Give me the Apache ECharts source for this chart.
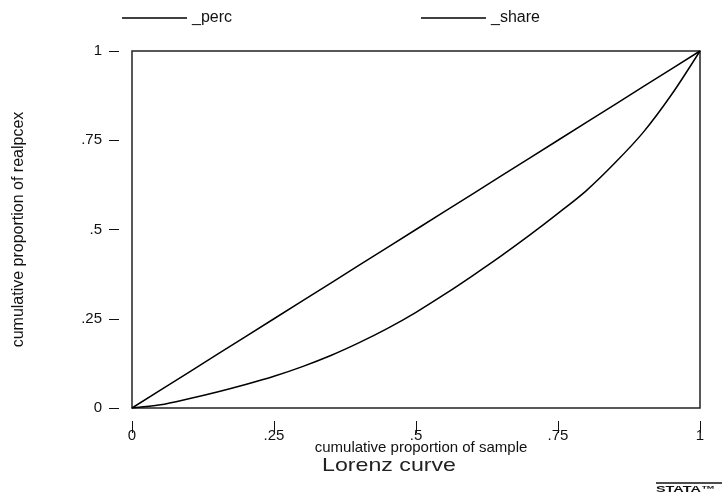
<!DOCTYPE html>
<html>
<head>
<meta charset="utf-8">
<script src="https://cdn.jsdelivr.net/npm/echarts@6/dist/echarts.min.js"></script>
<style>
html,body{margin:0;padding:0;background:#fff;}
#chart{width:722px;height:496px;}
</style>
</head>
<body>
<div id="chart"></div>
<script>
// cumulative proportion of sample
const sampleProp = [0,0.05,0.1,0.15,0.2,0.25,0.3,0.35,0.4,0.45,0.5,0.55,0.6,0.65,0.7,0.75,0.8,0.85,0.9,0.95,1];
// _perc (line of equality)
const percValues = [0,0.05,0.1,0.15,0.2,0.25,0.3,0.35,0.4,0.45,0.5,0.55,0.6,0.65,0.7,0.75,0.8,0.85,0.9,0.95,1];
// _share (Lorenz curve)
const shareValues = [0,0.009,0.026,0.045,0.066,0.089,0.116,0.147,0.183,0.223,0.268,0.318,0.371,0.426,0.484,0.545,0.609,0.686,0.772,0.878,1];
const seriesNames = ['_perc','_share'];
const tickValues = [0,0.25,0.5,0.75,1];
const xTickLabels = ['0','.25','.5','.75','1'];
const yTickLabels = ['0','.25','.5','.75','1'];

const font = 'Liberation Sans, Arial, sans-serif';
function fmt(labels){
  return function(v){
    const i = tickValues.findIndex(t => Math.abs(t - v) < 1e-6);
    return i >= 0 ? labels[i] : '';
  };
}
// plot box geometry (pixels) and the detached tick axes (Stata style gap)
const box = {left:132,right:22,top:51,bottom:88};
const gap = 13;
const boxW = 722 - box.left - box.right;
const boxH = 496 - box.top - box.bottom;

const chart = echarts.init(document.getElementById('chart'), null, {renderer:'canvas'});
chart.setOption({
  backgroundColor:'#fff',
  animation:false,
  grid:[
    {left:box.left,right:box.right,top:box.top,bottom:box.bottom,show:true,borderColor:'#222',borderWidth:1.5,backgroundColor:'transparent'},
    {left:box.left-gap,right:box.right,top:box.top,bottom:box.bottom-gap,show:false}
  ],
  legend:[
    {data:[seriesNames[0]],left:117,top:5,icon:'rect',itemWidth:65,itemHeight:1.5,itemGap:5,
     textStyle:{fontFamily:font,fontSize:16,color:'#111'}},
    {data:[seriesNames[1]],left:416,top:5,icon:'rect',itemWidth:65,itemHeight:1.5,itemGap:5,
     textStyle:{fontFamily:font,fontSize:16,color:'#111'}}
  ],
  xAxis:[
    {gridIndex:0,type:'value',min:0,max:1,
     axisLine:{show:false},axisTick:{show:false},axisLabel:{show:false},splitLine:{show:false},
     name:'cumulative proportion of sample',nameLocation:'middle',nameGap:32,nameMoveOverlap:false,
     nameTextStyle:{fontFamily:font,fontSize:15,color:'#111',padding:[0,0,0,10]}},
    {gridIndex:1,type:'value',min:-gap/boxW,max:1,position:'bottom',
     axisLine:{show:false,onZero:false},
     axisTick:{show:true,inside:false,length:12,customValues:tickValues,lineStyle:{color:'#111',width:1}},
     splitLine:{show:false},
     axisLabel:{customValues:tickValues,formatter:fmt(xTickLabels),margin:7,fontFamily:font,fontSize:15,color:'#111'}}
  ],
  yAxis:[
    {gridIndex:0,type:'value',min:0,max:1,
     axisLine:{show:false},axisTick:{show:false},axisLabel:{show:false},splitLine:{show:false},
     name:'cumulative proportion of realpcex',nameLocation:'middle',nameGap:105,nameMoveOverlap:false,
     nameTextStyle:{fontFamily:font,fontSize:16,color:'#111'}},
    {gridIndex:1,type:'value',min:-gap/boxH,max:1,position:'left',
     axisLine:{show:false,onZero:false},
     axisTick:{show:true,inside:false,length:10,customValues:tickValues,lineStyle:{color:'#111',width:1}},
     splitLine:{show:false},
     axisLabel:{customValues:tickValues,formatter:fmt(yTickLabels),margin:17,fontFamily:font,fontSize:15,color:'#111'}}
  ],
  series:[
    {name:seriesNames[0],type:'line',xAxisIndex:0,yAxisIndex:0,symbol:'none',showSymbol:false,
     data:sampleProp.map((p,i)=>[p,percValues[i]]),
     itemStyle:{color:'#000'},lineStyle:{color:'#000',width:1.5}},
    {name:seriesNames[1],type:'line',xAxisIndex:0,yAxisIndex:0,symbol:'none',showSymbol:false,smooth:0.3,
     data:sampleProp.map((p,i)=>[p,shareValues[i]]),
     itemStyle:{color:'#000'},lineStyle:{color:'#000',width:1.5}}
  ],
  graphic:[
    {type:'text',x:322,y:456,scaleX:1.22,scaleY:1,
     style:{text:'Lorenz curve',font:'19px Liberation Sans, Arial, sans-serif',fill:'#222',textVerticalAlign:'top'}},
    {type:'line',shape:{x1:656,y1:483,x2:722,y2:483},style:{stroke:'#111',lineWidth:1.5}},
    {type:'text',x:656,y:485,scaleX:1.6,scaleY:1,
     style:{text:'STATA™',font:'bold 9px Liberation Sans, Arial, sans-serif',fill:'#111',textVerticalAlign:'top'}}
  ]
});
</script>
</body>
</html>
